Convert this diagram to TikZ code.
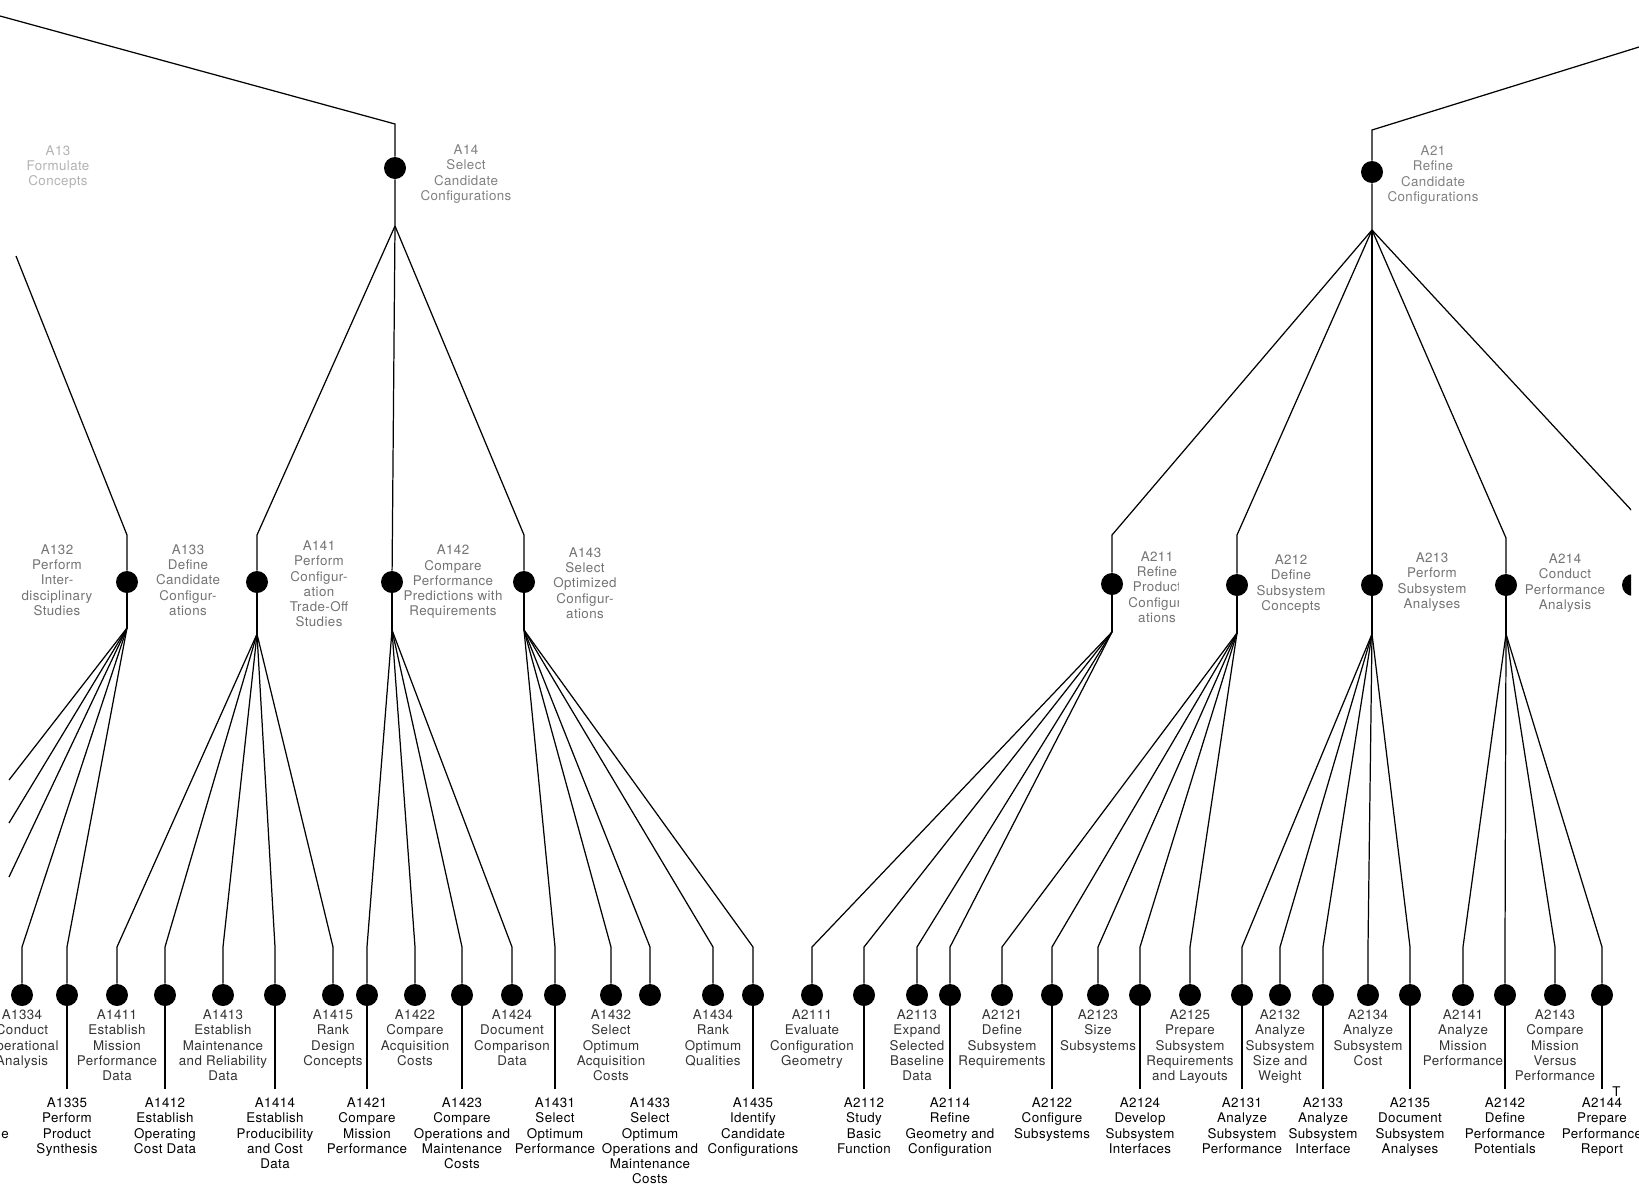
\documentclass[tikz,border=0pt]{standalone}
\usepackage{fontspec}
\setmainfont[LetterSpace=3]{TeX Gyre Heros}
\usetikzlibrary{positioning, calc}

\begin{document}
\begin{tikzpicture}[
  x=0.02cm, y=-0.02cm,
  dot/.style={circle, fill=black, minimum size=0.44cm, inner sep=0},
  link/.style={line width=0.7pt},
  lbl/.style={font=\fontsize{7.6}{8.7}\selectfont, align=center, inner sep=0},
  lblU/.style={lbl, text=black!80, anchor=north, yshift=-0.06cm},
  lblL/.style={lbl, anchor=north, yshift=-1.82cm},
  lblN/.style={lblL},
  stemU/.style={},
  stemN/.style={},
  stemL/.style={draw, link},
  midlbl/.style={lbl, text=black!55},
  toplbl/.style={lbl, text=black!50},
]
  \useasboundingbox (0,0) rectangle (1639,1187);
  \clip (0,0) -- (1639,0) -- (1639,140) -- (1631,140) -- (1631,700) -- (1639,700)
    -- (1639,1187) -- (0,1187) -- cycle;

  % --- top level: A14 and A21 ---
  \coordinate (e13) at (0,16);
  \coordinate (c14) at (395,124);
  \node[dot] (n14) at (395,168) {};
  \coordinate (f14) at (395,226);
  \draw[link] (e13) -- (c14) -- (n14) -- (f14);

  \coordinate (e21) at (1639,47);
  \coordinate (c21) at (1372,130);
  \node[dot] (n21) at (1372,172) {};
  \coordinate (f21) at (1372,230);
  \draw[link] (e21) -- (c21) -- (n21) -- (f21);

  \node[toplbl, text=black!30] (l13) at (58,167) {A13\\Formulate\\Concepts};
  \node[toplbl] (l14) at (466,174) {A14\\Select\\Candidate\\Configurations};
  \node[toplbl] (l21) at (1433,175) {A21\\Refine\\Candidate\\Configurations};

  % --- second level dots, each with its fan point below ---
  \foreach \nm/\xx/\cy/\fy in {133/127/582/628, 141/257/582/634, 142/392/582/630,
      143/524/582/630, 211/1112/584/632, 212/1237/585/633, 213/1372/585/634, 214/1506/585/634}{
    \node[dot] (n\nm) at (\xx,\cy) {};
    \coordinate (f\nm) at (\xx,\fy);
    \draw[link] (n\nm) -- (f\nm);
  }
  \node[dot] (n215) at (1633,585) {};

  \coordinate (e133) at (16,256);
  \coordinate (c133) at (127,535);
  \coordinate (c141) at (257,535);
  \coordinate (c143) at (524,535);
  \coordinate (c211) at (1112,535);
  \coordinate (c212) at (1237,535);
  \coordinate (c214) at (1506,538);
  \coordinate (e215) at (1659,540);

  \draw[link] (e133) -- (c133) -- (n133);
  \draw[link] (f14) -- (c141) -- (n141);
  \draw[link] (f14) -- (n142);
  \draw[link] (f14) -- (c143) -- (n143);
  \draw[link] (f21) -- (c211) -- (n211);
  \draw[link] (f21) -- (c212) -- (n212);
  \draw[link] (f21) -- (n213);
  \draw[link] (f21) -- (c214) -- (n214);
  \draw[link] (f21) -- (e215);

  \node[midlbl] (l132) at (57,580) {A132\\Perform\\Inter-\\disciplinary\\Studies};
  \node[midlbl] (l133) at (188,580) {A133\\Define\\Candidate\\Configur-\\ations};
  \node[midlbl] (l141) at (319,584) {A141\\Perform\\Configur-\\ation\\Trade-Off\\Studies};
  \node[midlbl] (l142) at (453,582) {A142\\Compare\\Performance\\Predictions with\\Requirements};
  \node[midlbl] (l143) at (585,583) {A143\\Select\\Optimized\\Configur-\\ations};
  \begin{scope}
    \clip (1125,530) rectangle (1178,640);
    \node[midlbl] (l211) at (1157,587) {A211\\Refine\\Product\\Configur-\\ations};
  \end{scope}
  \node[midlbl] (l212) at (1291,584) {A212\\Define\\Subsystem\\Concepts};
  \node[midlbl] (l213) at (1432,582) {A213\\Perform\\Subsystem\\Analyses};
  \node[midlbl] (l214) at (1565,583) {A214\\Conduct\\Performance\\Analysis};

  % --- branches of A133 whose dots lie off the page ---
  \coordinate (e1331) at (9,780);
  \coordinate (e1332) at (9,823);
  \coordinate (e1333) at (9,877);
  \foreach \nm in {1331,1332,1333}{ \draw[link] (f133) -- (e\nm); }

  % --- bottom level: parent/number/x/row/text ---
  \foreach \pa/\nm/\xx/\rw/\lbltext in {
      133/1334/22/U/{Conduct\\Operational\\Analysis},
      133/1335/67/L/{Perform\\Product\\Synthesis},
      141/1411/117/U/{Establish\\Mission\\Performance\\Data},
      141/1412/165/L/{Establish\\Operating\\Cost Data},
      141/1413/223/U/{Establish\\Maintenance\\and Reliability\\Data},
      141/1414/275/L/{Establish\\Producibility\\and Cost\\Data},
      141/1415/333/U/{Rank\\Design\\Concepts},
      142/1421/367/L/{Compare\\Mission\\Performance},
      142/1422/415/U/{Compare\\Acquisition\\Costs},
      142/1423/462/L/{Compare\\Operations and\\Maintenance\\Costs},
      142/1424/512/U/{Document\\Comparison\\Data},
      143/1431/555/L/{Select\\Optimum\\Performance},
      143/1432/611/U/{Select\\Optimum\\Acquisition\\Costs},
      143/1433/650/N/{Select\\Optimum\\Operations and\\Maintenance\\Costs},
      143/1434/713/U/{Rank\\Optimum\\Qualities},
      143/1435/753/L/{Identify\\Candidate\\Configurations},
      211/2111/812/U/{Evaluate\\Configuration\\Geometry},
      211/2112/864/L/{Study\\Basic\\Function},
      211/2113/917/U/{Expand\\Selected\\Baseline\\Data},
      211/2114/950/L/{Refine\\Geometry and\\Configuration},
      212/2121/1002/U/{Define\\Subsystem\\Requirements},
      212/2122/1052/L/{Configure\\Subsystems},
      212/2123/1098/U/{Size\\Subsystems},
      212/2124/1140/L/{Develop\\Subsystem\\Interfaces},
      212/2125/1190/U/{Prepare\\Subsystem\\Requirements\\and Layouts},
      213/2131/1242/L/{Analyze\\Subsystem\\Performance},
      213/2132/1280/U/{Analyze\\Subsystem\\Size and\\Weight},
      213/2133/1323/L/{Analyze\\Subsystem\\Interface},
      213/2134/1368/U/{Analyze\\Subsystem\\Cost},
      213/2135/1410/L/{Document\\Subsystem\\Analyses},
      214/2141/1463/U/{Analyze\\Mission\\Performance},
      214/2142/1505/L/{Define\\Performance\\Potentials},
      214/2143/1555/U/{Compare\\Mission\\Versus\\Performance},
      214/2144/1602/L/{Prepare\\Performance\\Report}}{
    \coordinate (k\nm) at (\xx,947);
    \node[dot] (d\nm) at (\xx,995) {};
    \draw[link] (f\pa) -- (k\nm) -- (d\nm);
    \node[lbl\rw] (t\nm) at (d\nm.south) {A\nm\\\lbltext};
    \path[stem\rw] (d\nm) -- ([yshift=0.16cm]t\nm.north);
  }

  % --- cut-off text at the page edges ---
  \node[lbl] (frE) at (5,1135) {e};
  \node[lbl, anchor=west] (frT) at (1612,1092) {T};
\end{tikzpicture}
\end{document}
